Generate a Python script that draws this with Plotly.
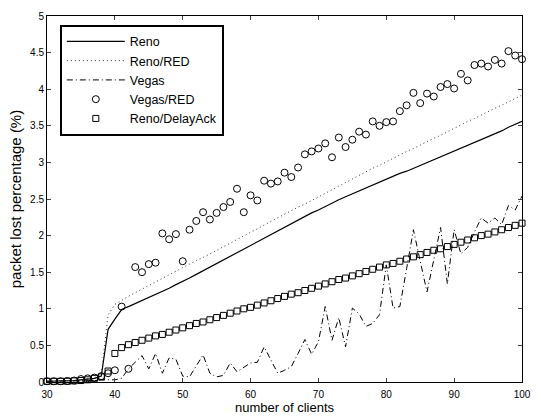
import plotly.graph_objects as go

clients = list(range(30, 101))

reno = [0.01, 0.01, 0.01, 0.015, 0.02, 0.03, 0.04, 0.05, 0.08, 0.72,
        0.86, 0.99, 1.03, 1.07, 1.12, 1.16, 1.20, 1.24, 1.28, 1.33,
        1.37, 1.42, 1.47, 1.52, 1.57, 1.62, 1.67, 1.72, 1.76, 1.81,
        1.86, 1.91, 1.96, 2.01, 2.06, 2.11, 2.16, 2.21, 2.26, 2.31,
        2.35, 2.40, 2.44, 2.49, 2.53, 2.57, 2.61, 2.65, 2.70, 2.74,
        2.78, 2.81, 2.85, 2.88, 2.92, 2.96, 2.99, 3.03, 3.07, 3.11,
        3.16, 3.20, 3.23, 3.27, 3.31, 3.35, 3.39, 3.43, 3.48, 3.52,
        3.56]

reno_red = [0.01, 0.01, 0.01, 0.015, 0.02, 0.03, 0.04, 0.06, 0.10, 0.92,
            1.06, 1.12, 1.17, 1.22, 1.27, 1.31, 1.36, 1.41, 1.46, 1.51,
            1.56, 1.61, 1.66, 1.70, 1.75, 1.80, 1.85, 1.90, 1.95, 2.00,
            2.05, 2.09, 2.14, 2.19, 2.24, 2.29, 2.34, 2.39, 2.43, 2.48,
            2.53, 2.58, 2.63, 2.68, 2.73, 2.78, 2.82, 2.87, 2.92, 2.96,
            3.01, 3.05, 3.10, 3.15, 3.19, 3.24, 3.28, 3.33, 3.37, 3.42,
            3.46, 3.51, 3.56, 3.60, 3.65, 3.69, 3.74, 3.78, 3.83, 3.87,
            3.92]

vegas = [0.01, 0.01, 0.01, 0.01, 0.01, 0.015, 0.02, 0.02, 0.03, 0.03,
         0.03, 0.05, 0.18, 0.27, 0.36, 0.18, 0.39, 0.12, 0.33, 0.31,
         0.08, 0.07, 0.22, 0.37, 0.12, 0.07, 0.09, 0.26, 0.14, 0.20,
         0.26, 0.27, 0.48, 0.30, 0.12, 0.16, 0.21, 0.39, 0.58, 0.38,
         0.55, 1.03, 0.57, 0.88, 0.48, 1.01, 0.93, 0.76, 0.80, 0.92,
         1.60, 1.01, 1.03, 1.55, 2.08, 1.65, 1.23, 1.67, 2.11, 1.34,
         2.08, 1.75, 1.84, 2.05, 2.24, 2.17, 2.24, 2.15, 2.41, 2.35,
         2.54]

vegas_red = [0.01, 0.01, 0.01, 0.015, 0.02, 0.04, 0.05, 0.06, 0.08, 0.12,
             0.16, 1.03, 0.18, 1.57, 1.50, 1.61, 1.63, 2.03, 1.95, 2.02,
             1.65, 2.08, 2.20, 2.32, 2.22, 2.31, 2.39, 2.46, 2.64, 2.32,
             2.55, 2.48, 2.75, 2.71, 2.74, 2.86, 2.80, 2.93, 3.11, 3.15,
             3.19, 3.26, 3.07, 3.34, 3.21, 3.31, 3.42, 3.38, 3.56, 3.50,
             3.55, 3.56, 3.70, 3.78, 3.95, 3.81, 3.94, 3.90, 4.03, 4.07,
             4.01, 4.21, 4.12, 4.33, 4.35, 4.31, 4.40, 4.35, 4.52, 4.46,
             4.41]

reno_delayack = [0.01, 0.01, 0.01, 0.01, 0.015, 0.02, 0.03, 0.05, 0.07, 0.15,
                 0.39, 0.47, 0.51, 0.54, 0.57, 0.60, 0.63, 0.65, 0.68, 0.71,
                 0.74, 0.77, 0.80, 0.82, 0.85, 0.88, 0.91, 0.94, 0.97, 1.00,
                 1.02, 1.05, 1.08, 1.11, 1.14, 1.17, 1.20, 1.22, 1.25, 1.28,
                 1.31, 1.34, 1.37, 1.40, 1.42, 1.45, 1.48, 1.51, 1.54, 1.57,
                 1.60, 1.62, 1.65, 1.68, 1.71, 1.74, 1.77, 1.80, 1.82, 1.85,
                 1.88, 1.91, 1.94, 1.97, 2.00, 2.02, 2.05, 2.08, 2.11, 2.14,
                 2.17]

x_ticks = [30, 40, 50, 60, 70, 80, 90, 100]
y_ticks = [0, 0.5, 1, 1.5, 2, 2.5, 3, 3.5, 4, 4.5, 5]
y_tick_labels = ["0", "0.5", "1", "1.5", "2", "2.5", "3", "3.5", "4", "4.5", "5"]

FONT = "Liberation Sans, Arial, sans-serif"

fig = go.Figure()
fig.add_trace(go.Scatter(x=clients, y=reno, name="Reno", mode="lines",
                         line=dict(color="black", width=1.2), cliponaxis=False))
fig.add_trace(go.Scatter(x=clients, y=reno_red, name="Reno/RED", mode="lines",
                         line=dict(color="#333333", width=1, dash="1px,3px"),
                         cliponaxis=False))
fig.add_trace(go.Scatter(x=clients, y=vegas, name="Vegas", mode="lines",
                         line=dict(color="black", width=1, dash="6px,3px,1px,3px"),
                         cliponaxis=False))
fig.add_trace(go.Scatter(x=clients, y=vegas_red, name="Vegas/RED", mode="markers",
                         marker=dict(symbol="circle-open", size=7, color="black",
                                     line=dict(width=1, color="black")),
                         cliponaxis=False))
fig.add_trace(go.Scatter(x=clients, y=reno_delayack, name="Reno/DelayAck", mode="markers",
                         marker=dict(symbol="square-open", size=6, color="black",
                                     line=dict(width=1, color="black")),
                         cliponaxis=False))

fig.update_layout(
    width=541, height=419,
    margin=dict(l=47, r=12, t=10, b=29),
    paper_bgcolor="white", plot_bgcolor="white",
    font=dict(family=FONT, color="black", size=10),
    showlegend=True,
    legend=dict(x=0.027, y=0.976, xanchor="left", yanchor="top",
                bgcolor="white", bordercolor="black", borderwidth=2,
                font=dict(family=FONT, size=12.5, color="black"),
                itemwidth=58, tracegroupgap=0),
    xaxis=dict(range=[30, 100], tickvals=x_ticks, ticks="inside", ticklen=4,
               showline=True, linecolor="black", linewidth=1, mirror="ticks",
               showgrid=False, zeroline=False, tickfont=dict(size=10),
               ticklabelstandoff=3,
               title=dict(text="number of clients", font=dict(size=13), standoff=0)),
    yaxis=dict(range=[0, 5], tickvals=y_ticks, ticktext=y_tick_labels,
               ticks="inside", ticklen=4,
               showline=True, linecolor="black", linewidth=1, mirror="ticks",
               showgrid=False, zeroline=False, tickfont=dict(size=10),
               title=dict(text="packet lost percentage (%)", font=dict(size=15), standoff=4)),
)

fig.write_html("out.html")
